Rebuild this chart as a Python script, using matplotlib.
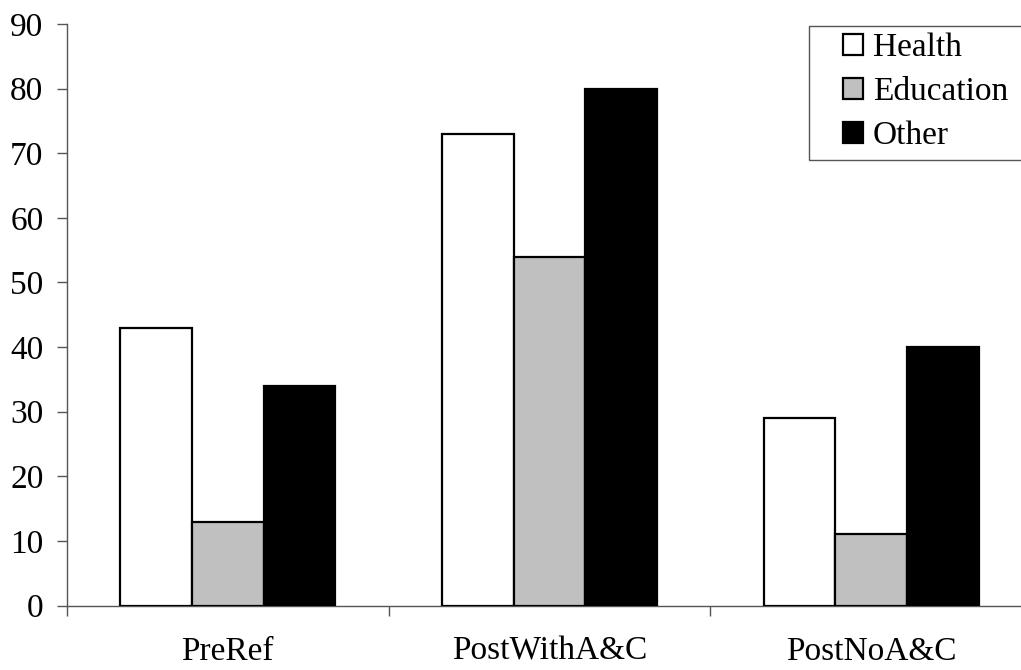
import matplotlib
matplotlib.use("Agg")
import matplotlib.pyplot as plt
from matplotlib.patches import Rectangle
import numpy as np

categories = ["PreRef", "PostWithA&C", "PostNoA&C"]
series_names = ["Health", "Education", "Other"]
health = [43, 73, 29]
education = [13, 54, 11]
other = [34, 80, 40]
y_ticks = [0, 10, 20, 30, 40, 50, 60, 70, 80, 90]

plt.rcParams['font.family'] = ['Liberation Serif', 'DejaVu Serif']

fig = plt.figure(figsize=(10.21, 6.70), dpi=100)
W, H = 1021, 670
left, right = 67, 1032
top, bottom = 24, 605.5
ax = fig.add_axes([left / W, 1 - bottom / H, (right - left) / W, (bottom - top) / H])

x = np.arange(len(categories))
bw = 0.223
colors = ["white", "#c0c0c0", "black"]
for i, (vals, name, c) in enumerate(zip([health, education, other], series_names, colors)):
    ax.bar(x + (i - 1) * bw, vals, width=bw, color=c, edgecolor="black",
           linewidth=1.6, label=name, zorder=3)

ax.set_xlim(-0.5, 2.5)
ax.set_ylim(0, 90)
ax.set_yticks(y_ticks)
ax.set_yticklabels([str(t) for t in y_ticks], fontsize=24)
ax.set_xticks([-0.5, 0.5, 1.5, 2.5])
ax.set_xticklabels([])
ax.set_xticks(x, minor=True)
ax.set_xticklabels(categories, minor=True, fontsize=24)
ax.tick_params(axis='x', which='minor', length=0, pad=22)
ax.tick_params(axis='x', which='major', length=7.5, direction='out', color='#555555', width=1)
ax.tick_params(axis='y', length=7.5, direction='out', color='#555555', width=1, pad=9.5)
for s in ['top', 'right']:
    ax.spines[s].set_visible(False)
for s in ['left', 'bottom']:
    ax.spines[s].set_color('#555555')
    ax.spines[s].set_linewidth(1)

leg = ax.legend(loc='upper left', bbox_to_anchor=(843 / W, 1 - 33 / H),
                bbox_transform=fig.transFigure,
                fontsize=24, frameon=False, handlelength=0.6,
                handleheight=0.6, handletextpad=0.3, labelspacing=0.4,
                borderpad=0, borderaxespad=0)
fig.patches.append(Rectangle((809 / W, 1 - 160 / H), (1040 - 809) / W, 134 / H,
                             transform=fig.transFigure, fill=False,
                             edgecolor='#555555', linewidth=1))

fig.savefig("out.png", dpi=100)
